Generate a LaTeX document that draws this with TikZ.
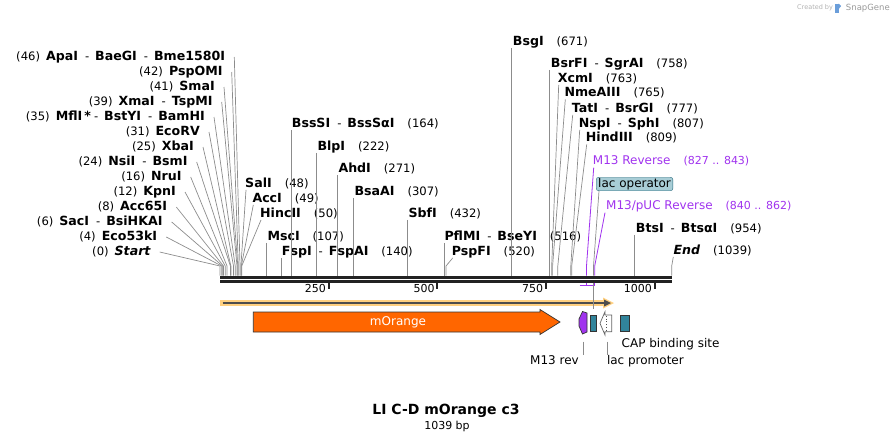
\documentclass[tikz,border=0pt]{standalone}
\usepackage{fontspec}
\setmainfont{DejaVu Sans}

\definecolor{cutgray}{HTML}{8C8C8C}
\definecolor{barblack}{HTML}{222222}
\definecolor{primpurple}{HTML}{A033EE}
\definecolor{orangefeat}{HTML}{FF6600}
\definecolor{tealfeat}{HTML}{31849B}
\definecolor{opbox}{HTML}{A8CDD6}
\definecolor{goldlt}{HTML}{FFD080}
\definecolor{linedark}{HTML}{4D4D4D}

\newcommand{\ez}[1]{{\fontsize{12.6}{14}\selectfont\bfseries #1}}
\newcommand{\bpn}[1]{{\fontsize{11.6}{14}\selectfont #1}}
\newcommand{\dsh}{\hspace{7pt}{\fontsize{11.6}{14}\selectfont -}\hspace{6pt}}
\newcommand{\gp}{\hspace{13pt}}

\begin{document}
\begin{tikzpicture}[x=1pt, y=-1pt,
        lbl/.style={inner sep=0pt, text height=9pt, text depth=2.5pt},
        lft/.style={lbl, anchor=east},
        rgt/.style={lbl, anchor=west},
        prim/.style={rgt, text=primpurple, font=\fontsize{12}{14}\selectfont},
        cut/.style={draw=cutgray, line width=0.7pt},
        pcut/.style={draw=primpurple, line width=0.8pt},
        feat/.style={draw=black!80, line width=0.7pt},
        flabel/.style={lbl, font=\fontsize{12}{14}\selectfont},
        tick/.style={draw=barblack, line width=2pt},
    ]
    \useasboundingbox (0,0) rectangle (894,442);
    \coordinate (kink) at (0,266);

    % sequence bar and ticks
    \fill[barblack] (220,275.5) rectangle (672,278.5);
    \fill[barblack] (220,279.5) rectangle (672,282.5);
    \draw[tick] (328.7,282) -- (328.7,289);
    \draw[tick] (437.4,282) -- (437.4,289);
    \draw[tick] (546.0,282) -- (546.0,289);
    \draw[tick] (654.7,282) -- (654.7,289);
    \node[lft, font=\fontsize{11}{13}\selectfont] (t250) at (326,289.5) {250};
    \node[lft, font=\fontsize{11}{13}\selectfont] (t500) at (434.7,289.5) {500};
    \node[lft, font=\fontsize{11}{13}\selectfont] (t750) at (543.3,289.5) {750};
    \node[lft, font=\fontsize{11}{13}\selectfont] (t1000) at (652,289.5) {1000};

    % cut sites
    \coordinate (c0) at (220.0,275.5);
    \coordinate (c4) at (221.7,275.5);
    \coordinate (c6) at (222.6,275.5);
    \coordinate (c8) at (223.5,275.5);
    \coordinate (c12) at (225.2,275.5);
    \coordinate (c16) at (227.0,275.5);
    \coordinate (c24) at (230.4,275.5);
    \coordinate (c25) at (230.9,275.5);
    \coordinate (c31) at (233.5,275.5);
    \coordinate (c35) at (235.2,275.5);
    \coordinate (c39) at (237.0,275.5);
    \coordinate (c41) at (237.8,275.5);
    \coordinate (c42) at (238.3,275.5);
    \coordinate (c46) at (240.0,275.5);
    \coordinate (c48) at (240.9,275.5);
    \coordinate (c49) at (241.3,275.5);
    \coordinate (c50) at (241.7,275.5);
    \coordinate (c107) at (266.5,275.5);
    \coordinate (c140) at (280.9,275.5);
    \coordinate (c164) at (291.3,275.5);
    \coordinate (c222) at (316.5,275.5);
    \coordinate (c271) at (337.8,275.5);
    \coordinate (c307) at (353.5,275.5);
    \coordinate (c432) at (407.8,275.5);
    \coordinate (c516) at (444.3,275.5);
    \coordinate (c520) at (446.0,275.5);
    \coordinate (c671) at (511.7,275.5);
    \coordinate (c758) at (549.5,275.5);
    \coordinate (c763) at (551.7,275.5);
    \coordinate (c765) at (552.6,275.5);
    \coordinate (c777) at (557.8,275.5);
    \coordinate (c807) at (570.8,275.5);
    \coordinate (c809) at (571.7,275.5);
    \coordinate (c843) at (586.5,275.5);
    \coordinate (clacop) at (593.5,275.5);
    \coordinate (c862) at (594.7,275.5);
    \coordinate (c954) at (634.7,275.5);
    \coordinate (c1039) at (671.7,275.5);

    % left fan of enzymes
    \node[lft] (apa) at (225.3,57) {\bpn{(46)}\hspace{6pt}\ez{ApaI}\dsh\ez{BaeGI}\dsh\ez{Bme1580I}};
    \node[lft] (pspo) at (222.7,72) {\bpn{(42)}\hspace{6pt}\ez{PspOMI}};
    \node[lft] (sma) at (215,87) {\bpn{(41)}\hspace{6pt}\ez{SmaI}};
    \node[lft] (xma) at (212.7,102) {\bpn{(39)}\hspace{6pt}\ez{XmaI}\dsh\ez{TspMI}};
    \node[lft] (mfl) at (205,117) {\bpn{(35)}\hspace{6pt}\ez{MflI\,*}\hspace{3pt}{\fontsize{11.6}{14}\selectfont -}\hspace{6pt}\ez{BstYI}\dsh\ez{BamHI}};
    \node[lft] (ecorv) at (200,132) {\bpn{(31)}\hspace{6pt}\ez{EcoRV}};
    \node[lft] (xba) at (194,147) {\bpn{(25)}\hspace{6pt}\ez{XbaI}};
    \node[lft] (nsi) at (187.7,162) {\bpn{(24)}\hspace{6pt}\ez{NsiI}\dsh\ez{BsmI}};
    \node[lft] (nru) at (181.7,177) {\bpn{(16)}\hspace{6pt}\ez{NruI}};
    \node[lft] (kpn) at (176,192) {\bpn{(12)}\hspace{6pt}\ez{KpnI}};
    \node[lft] (acc65) at (167.3,207) {\bpn{(8)}\hspace{6pt}\ez{Acc65I}};
    \node[lft] (sac) at (162.7,222) {\bpn{(6)}\hspace{6pt}\ez{SacI}\dsh\ez{BsiHKAI}};
    \node[lft] (eco53) at (157.3,237) {\bpn{(4)}\hspace{6pt}\ez{Eco53kI}};
    \node[lft] (start) at (150.7,252) {\bpn{(0)}\hspace{6pt}\ez{\itshape Start}};
    \draw[cut] ([xshift=9pt]apa.east) -- (c46 |- kink) -- (c46);
    \draw[cut] ([xshift=9pt]pspo.east) -- (c42 |- kink) -- (c42);
    \draw[cut] ([xshift=9pt]sma.east) -- (c41 |- kink) -- (c41);
    \draw[cut] ([xshift=9pt]xma.east) -- (c39 |- kink) -- (c39);
    \draw[cut] ([xshift=9pt]mfl.east) -- (c35 |- kink) -- (c35);
    \draw[cut] ([xshift=9pt]ecorv.east) -- (c31 |- kink) -- (c31);
    \draw[cut] ([xshift=9pt]xba.east) -- (c25 |- kink) -- (c25);
    \draw[cut] ([xshift=9pt]nsi.east) -- (c24 |- kink) -- (c24);
    \draw[cut] ([xshift=9pt]nru.east) -- (c16 |- kink) -- (c16);
    \draw[cut] ([xshift=9pt]kpn.east) -- (c12 |- kink) -- (c12);
    \draw[cut] ([xshift=9pt]acc65.east) -- (c8 |- kink) -- (c8);
    \draw[cut] ([xshift=9pt]sac.east) -- (c6 |- kink) -- (c6);
    \draw[cut] ([xshift=9pt]eco53.east) -- (c4 |- kink) -- (c4);
    \draw[cut] ([xshift=9pt]start.east) -- (c0 |- kink) -- (c0);

    % enzymes to the right of their sites
    \node[rgt] (sal) at (245,184) {\ez{SalI}\gp\bpn{(48)}};
    \node[rgt] (acci) at (252.3,199) {\ez{AccI}\gp\bpn{(49)}};
    \node[rgt] (hinc) at (260,214) {\ez{HincII}\gp\bpn{(50)}};
    \node[rgt] (msc) at (267.3,237) {\ez{MscI}\gp\bpn{(107)}};
    \node[rgt] (fsp) at (281.7,252) {\ez{FspI}\dsh\ez{FspAI}\gp\bpn{(140)}};
    \node[rgt] (bsss) at (291.7,124) {\ez{BssSI}\dsh\ez{BssSαI}\gp\bpn{(164)}};
    \node[rgt] (blp) at (317.3,147) {\ez{BlpI}\gp\bpn{(222)}};
    \node[rgt] (ahd) at (338.3,169.5) {\ez{AhdI}\gp\bpn{(271)}};
    \node[rgt] (bsaa) at (354.3,192) {\ez{BsaAI}\gp\bpn{(307)}};
    \node[rgt] (sbf) at (408.3,214) {\ez{SbfI}\gp\bpn{(432)}};
    \node[rgt] (pflm) at (444.3,237) {\ez{PflMI}\dsh\ez{BseYI}\gp\bpn{(516)}};
    \node[rgt] (pspf) at (451.7,252) {\ez{PspFI}\gp\bpn{(520)}};
    \node[rgt] (bsg) at (512.7,42.3) {\ez{BsgI}\gp\bpn{(671)}};
    \node[rgt] (bsrf) at (550.7,64) {\ez{BsrFI}\dsh\ez{SgrAI}\gp\bpn{(758)}};
    \node[rgt] (xcm) at (557.7,79) {\ez{XcmI}\gp\bpn{(763)}};
    \node[rgt] (nme) at (564.3,93.5) {\ez{NmeAIII}\gp\bpn{(765)}};
    \node[rgt] (tat) at (571.7,109) {\ez{TatI}\dsh\ez{BsrGI}\gp\bpn{(777)}};
    \node[rgt] (nsp) at (578.7,124) {\ez{NspI}\dsh\ez{SphI}\gp\bpn{(807)}};
    \node[rgt] (hind) at (585.7,138.5) {\ez{HindIII}\gp\bpn{(809)}};
    \node[rgt] (bts) at (635.7,229) {\ez{BtsI}\dsh\ez{BtsαI}\gp\bpn{(954)}};
    \node[rgt] (endn) at (673.3,251) {\ez{\itshape End}\gp\bpn{(1039)}};
    \draw[cut] ([xshift=1pt]sal.south west) -- (c48 |- kink) -- (c48);
    \draw[cut] ([xshift=1pt]acci.south west) -- (c49 |- kink) -- (c49);
    \draw[cut] ([xshift=1pt]hinc.south west) -- (c50 |- kink) -- (c50);
    \draw[cut] (c107 |- msc.south) -- (c107);
    \draw[cut] (c140 |- fsp.south) -- (c140);
    \draw[cut] (c164 |- bsss.south) -- (c164);
    \draw[cut] (c222 |- blp.south) -- (c222);
    \draw[cut] (c271 |- ahd.south) -- (c271);
    \draw[cut] (c307 |- bsaa.south) -- (c307);
    \draw[cut] (c432 |- sbf.south) -- (c432);
    \draw[cut] (c516 |- pflm.south) -- (c516);
    \draw[cut] ([xshift=1pt]pspf.south west) -- (c520 |- kink) -- (c520);
    \draw[cut] (c671 |- bsg.south) -- (c671);
    \draw[cut] (c758 |- bsrf.south) -- (c758);
    \draw[cut] ([xshift=1pt]xcm.south west) -- (c763 |- kink) -- (c763);
    \draw[cut] ([xshift=1pt]nme.south west) -- (c765 |- kink) -- (c765);
    \draw[cut] ([xshift=1pt]tat.south west) -- (c777 |- kink) -- (c777);
    \draw[cut] ([xshift=1pt]nsp.south west) -- (c807 |- kink) -- (c807);
    \draw[cut] ([xshift=1pt]hind.south west) -- (c809 |- kink) -- (c809);
    \draw[cut] (c954 |- bts.south) -- (c954);
    \draw[cut] (endn.south west) -- (c1039 |- kink) -- (c1039);

    % primers and lac operator
    \node[prim] (m13r) at (592.7,161.7) {M13 Reverse\gp{\fontsize{11}{14}\selectfont(827 .. 843)}};
    \node[prim] (m13p) at (606,206.7) {M13/pUC Reverse\gp{\fontsize{11}{14}\selectfont(840 .. 862)}};
    \node[lbl, anchor=west, fill=opbox, draw=tealfeat!80!black, rounded corners=2.5pt,
        inner xsep=2pt, inner ysep=1pt, font=\fontsize{12}{14}\selectfont] (lacop) at (596,184) {lac operator};
    \draw[pcut] ([xshift=1pt]m13r.south west) -- (c843 |- kink) -- (c843);
    \draw[pcut] ([xshift=-1pt]m13p.south west) -- (c862 |- kink) -- (c862);
    \draw[cut] ([xshift=3pt]lacop.south west) -- (clacop |- kink) -- (clacop);

    % primer sites below the bar
    \draw[primpurple, line width=1.3pt] (579.5,285.5) -- (595.2,285.5);
    \draw[pcut] (586.5,282.5) -- (586.5,285.5);
    \draw[pcut] (594.7,282.5) -- (594.7,285.5);

    % whole insert arrow
    \draw[goldlt, line width=6pt] (220,303) -- (605,303);
    \fill[goldlt] (603,297.5) -- (614,303) -- (603,308.5) -- cycle;
    \draw[linedark, line width=1.7pt] (222.5,303) -- (606,303);
    \fill[linedark] (604,299.5) -- (611,303) -- (604,306.5) -- cycle;
    \draw[cut] (clacop |- 0,282.5) -- (593.5,308.5);

    % features
    \draw[feat, fill=orangefeat] (253.3,312) -- (540,312) -- (540,309.5) -- (560,322)
        -- (540,334.5) -- (540,332) -- (253.3,332) -- cycle;
    \node[lbl, text=white, font=\fontsize{12}{14}\selectfont] (morange) at (398,322.5) {mOrange};
    \draw[feat, fill=primpurple] (587,313) -- (582.5,311.5) -- (579,319) -- (579,326)
        -- (582.5,334) -- (587,332) -- cycle;
    \draw[feat, fill=tealfeat] (590,315) rectangle (596.7,331.7);
    \draw[draw=black!60, line width=0.7pt, fill=white] (611.7,315) -- (605,315) -- (605,311.7)
        -- (600,323.3) -- (605,335) -- (605,331.7) -- (611.7,331.7) -- cycle;
    \draw[black!70, dotted, line width=0.7pt] (606.3,316) -- (606.3,331);
    \draw[feat, fill=tealfeat] (620,315) rectangle (629,331.7);
    \coordinate (m13f) at (583,341.5);
    \coordinate (lacpf) at (607.3,341.5);
    \node[flabel, anchor=east] (m13lab) at (579,361) {M13 rev};
    \node[flabel, anchor=west] (lacplab) at (606.8,361) {lac promoter};
    \node[flabel, anchor=west] (caplab) at (621.5,344.5) {CAP binding site};
    \draw[cut] (m13f) -- (m13f |- m13lab.north);
    \draw[cut] (lacpf) -- (lacpf |- lacplab.north);

    % title
    \node[lbl, font=\fontsize{14}{16}\selectfont\bfseries] (ttl) at (446,411) {LI C-D mOrange c3};
    \node[lbl, font=\fontsize{11}{13}\selectfont] (len) at (447,426) {1039 bp};

    % watermark
    \node[anchor=west, inner sep=0pt, text=black!30, font=\fontsize{6.5}{8}\selectfont] (made) at (797,8) {Created by};
    \fill[cyan!55!blue!60] ([xshift=2pt]made.east |- 0,3.5) rectangle ++(3.5,9);
    \fill[cyan!55!blue!60] ([xshift=5.5pt]made.east |- 0,3.5) -- ++(2.5,2.5) -- ++(-2.5,3) -- cycle;
    \node[anchor=east, inner sep=0pt, text=black!40, font=\fontsize{8.5}{10}\selectfont] (sg) at (890,8) {SnapGene};
\end{tikzpicture}
\end{document}
